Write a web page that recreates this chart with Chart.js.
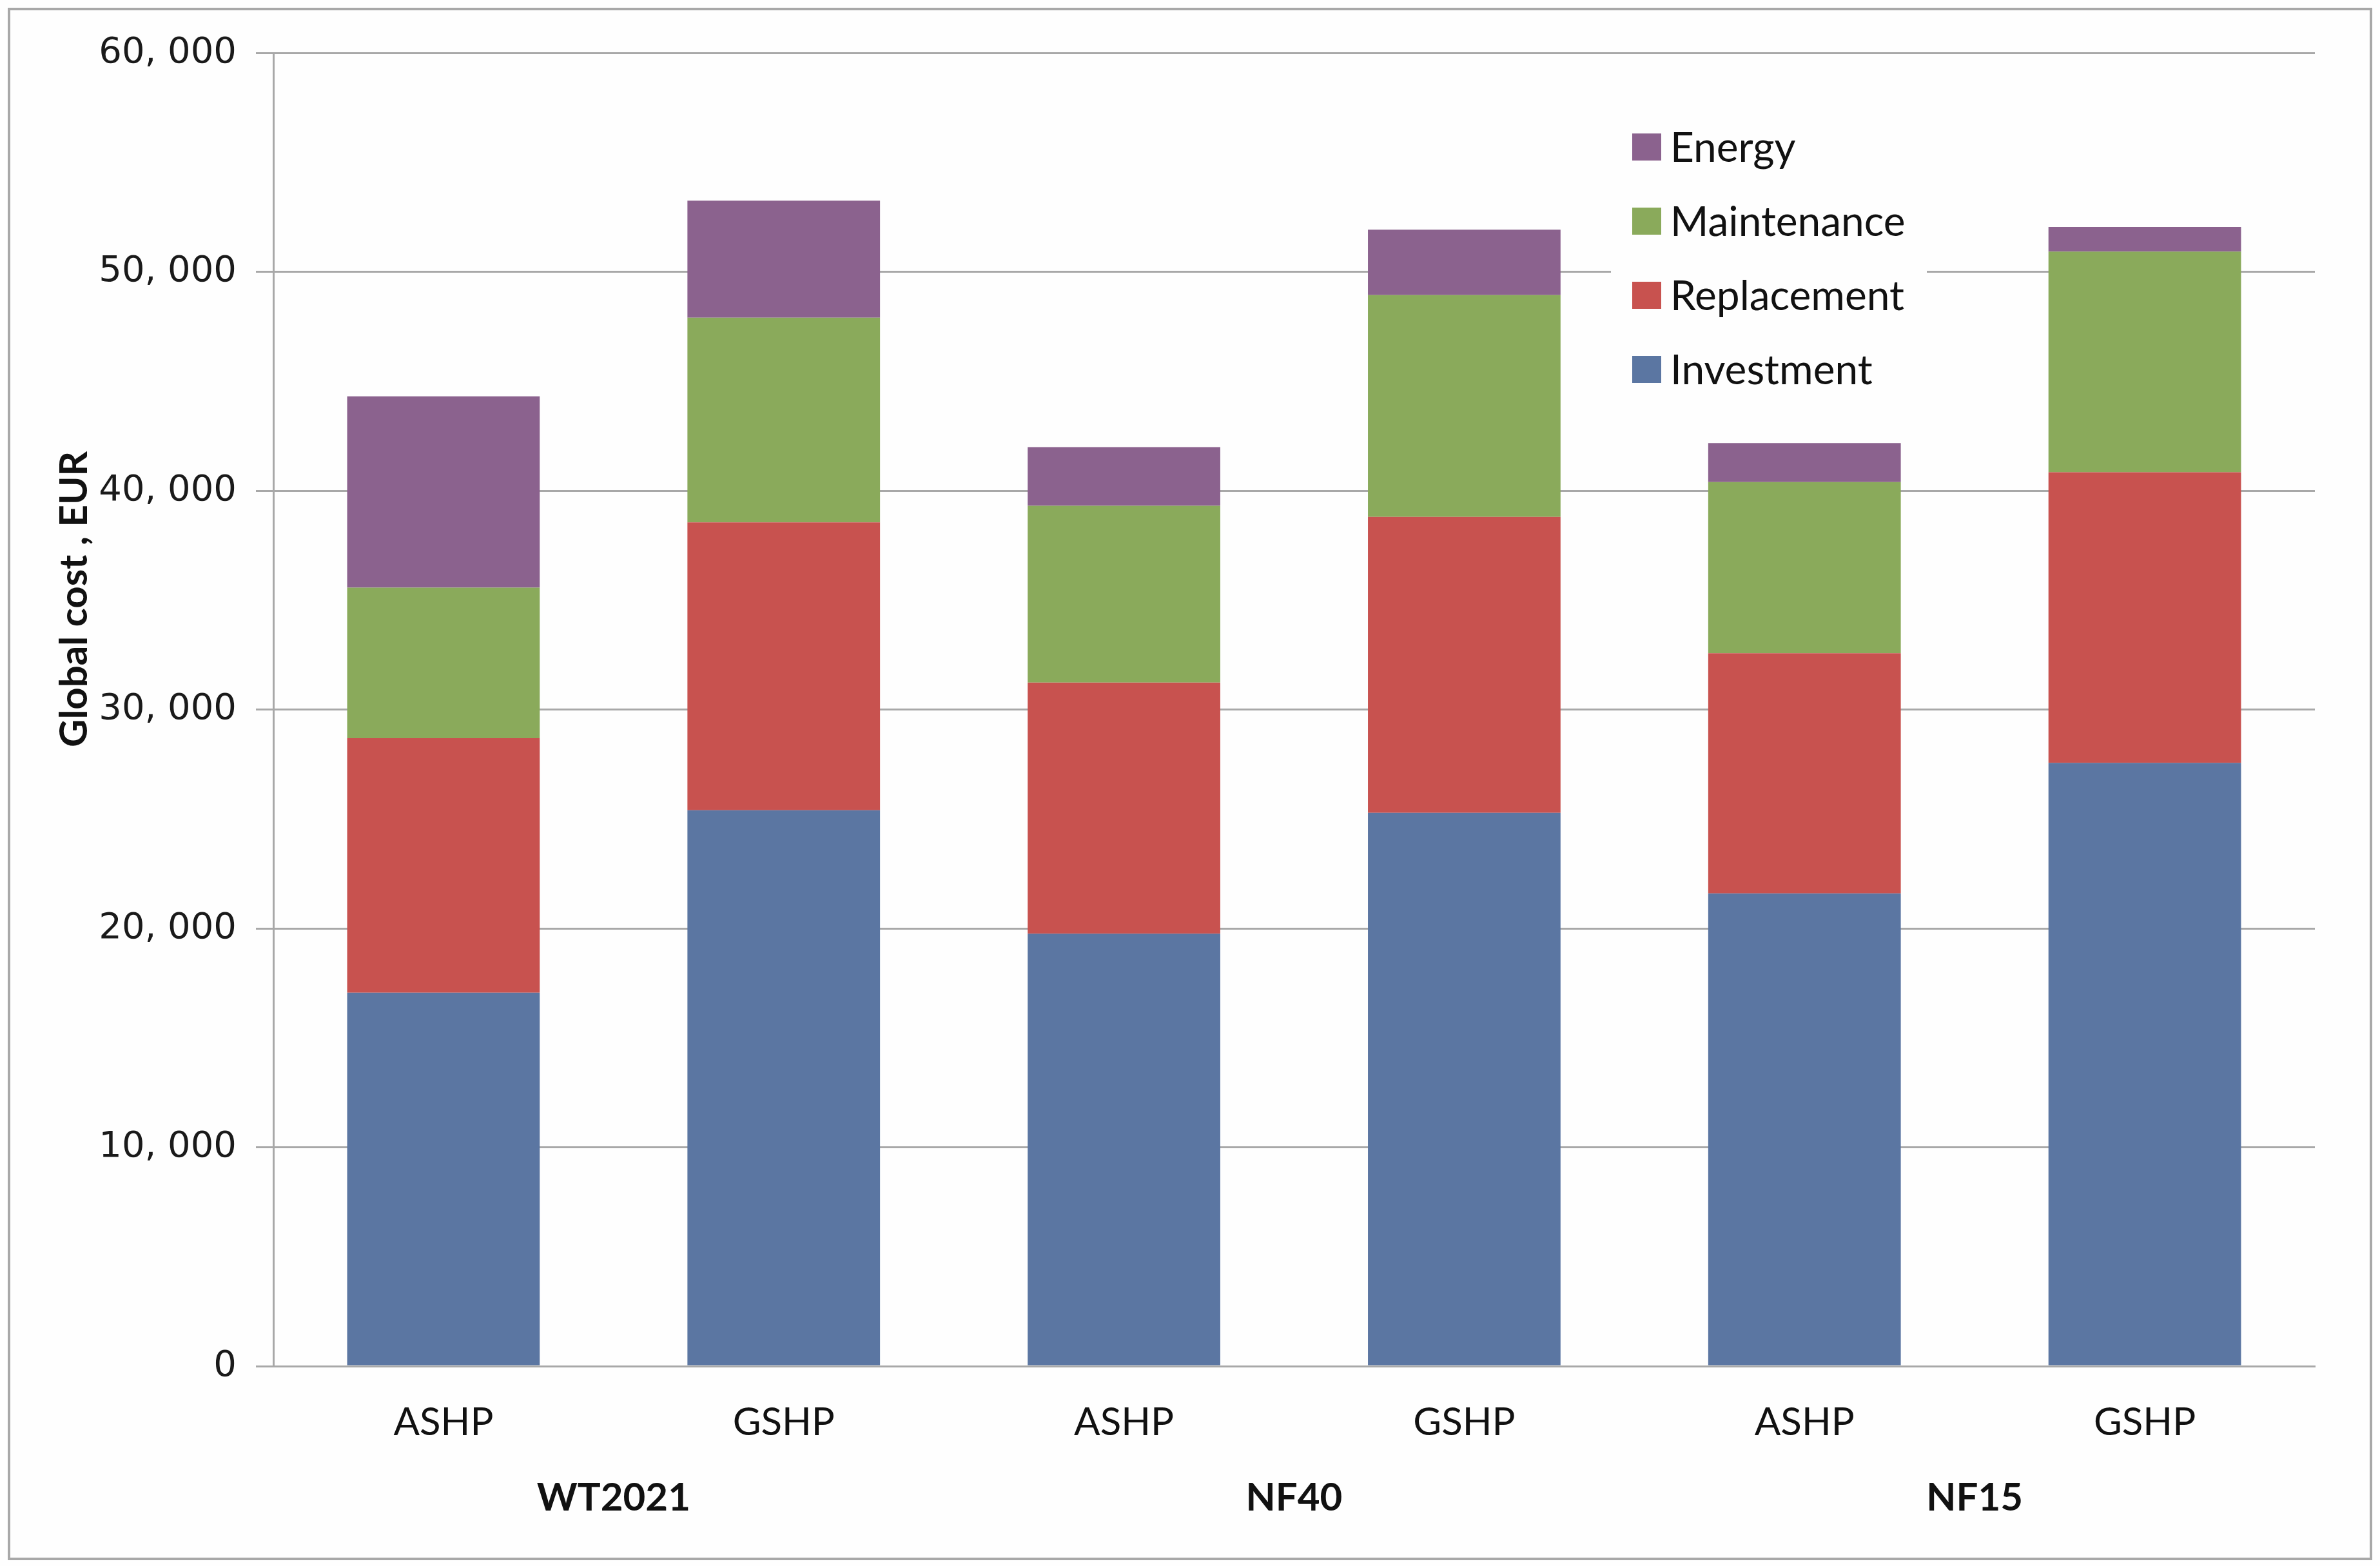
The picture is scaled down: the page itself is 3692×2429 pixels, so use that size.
<!DOCTYPE html>
<html>
<head>
<meta charset="utf-8">
<script src="https://cdn.jsdelivr.net/npm/chart.js@4.4.0/dist/chart.umd.min.js"></script>
<style>
    html, body { margin: 0; padding: 0; background: #fefefe; }
    #wrap { position: relative; width: 3692px; height: 2429px; }
    #frame { position: absolute; left: 12px; top: 12px; width: 3668px; height: 2408px;
             border: 4px solid #a8a8a8; box-sizing: border-box; pointer-events: none; }
    canvas { position: absolute; left: 0; top: 0; }
</style>
</head>
<body>
<div id="wrap">
    <canvas id="chart1" width="3692" height="2429"></canvas>
    <div id="frame"></div>
</div>
<script>
// categories and groups
var categories = ['ASHP', 'GSHP', 'ASHP', 'GSHP', 'ASHP', 'GSHP'];
var groups = ['WT2021', 'NF40', 'NF15'];

// cost parts, EUR
var investment = [17060, 25400, 19760, 25280, 21600, 27560];
var replacement = [11630, 13150, 11470, 13520, 10970, 13280];
var maintenance = [6880, 9350, 8080, 10130, 7820, 10080];
var energy = [8740, 5350, 2680, 2990, 1780, 1130];

var yTitle = 'Global cost , EUR';

var gridColor = '#a8a8a8';

// legend box drawn inside plot, like excel
const excelLegend = {
    id: 'excelLegend',
    afterDraw(chart) {
        const ctx = chart.ctx;
        ctx.save();

        // y axis title
        ctx.save();
        ctx.translate(135, 1159);
        ctx.rotate(-Math.PI / 2);
        ctx.font = 'bold 60px Lato';
        ctx.fillStyle = '#111';
        ctx.textAlign = 'left';
        ctx.textBaseline = 'alphabetic';
        ctx.fillText(yTitle, 0, 0);
        ctx.restore();

        // legend
        ctx.fillStyle = '#fefefe';
        ctx.fillRect(2499, 170, 490, 460);
        const sets = chart.data.datasets.slice().reverse();
        ctx.font = '64px Lato';
        ctx.textBaseline = 'middle';
        ctx.textAlign = 'left';
        sets.forEach((ds, i) => {
            const cy = 228 + i * 115;
            ctx.fillStyle = ds.backgroundColor;
            ctx.fillRect(2532, cy - 21, 45, 42);
            ctx.fillStyle = '#111';
            ctx.fillText(ds.label, 2591, cy + 2);
        });
        ctx.restore();
    }
};

window.onload = function () {
    const ctx1 = document.getElementById('chart1');
    new Chart(ctx1, {
        type: 'bar',
        data: {
            labels: categories,
            datasets: [
                { label: 'Investment', data: investment, backgroundColor: '#5b76a2' },
                { label: 'Replacement', data: replacement, backgroundColor: '#c8524f' },
                { label: 'Maintenance', data: maintenance, backgroundColor: '#8aaa5b' },
                { label: 'Energy', data: energy, backgroundColor: '#8b628e' }
            ]
        },
        options: {
            responsive: false,
            animation: false,
            devicePixelRatio: 1,
            datasets: {
                bar: { barPercentage: 0.566, categoryPercentage: 1, borderWidth: 0 }
            },
            layout: { padding: { top: 82, right: 101, left: 0, bottom: 0 } },
            plugins: {
                legend: { display: false },
                tooltip: { enabled: false }
            },
            scales: {
                x: {
                    stacked: true,
                    weight: 0,
                    grid: { display: false, drawTicks: false },
                    border: { display: true, color: gridColor, width: 3 },
                    ticks: { font: { family: 'Lato', size: 60 }, color: '#111', padding: 52 },
                    afterFit: function (s) { s.height = 129; }
                },
                x2: {
                    type: 'category',
                    labels: groups,
                    position: 'bottom',
                    offset: true,
                    weight: 1,
                    grid: { display: false, drawTicks: false },
                    border: { display: false },
                    ticks: { font: { family: 'Lato', size: 60, weight: 'bold' }, color: '#111', padding: 40 },
                    afterFit: function (s) { s.height = 181; }
                },
                y: {
                    stacked: true,
                    min: 0,
                    max: 60000,
                    ticks: {
                        stepSize: 10000,
                        font: { family: 'DejaVu Sans', size: 56 },
                        color: '#1a1a1a',
                        padding: 30,
                        callback: function (v) {
                            return v === 0 ? '0' : (v / 1000) + ', 000';
                        }
                    },
                    grid: { color: gridColor, lineWidth: 3, tickLength: 27 },
                    border: { color: gridColor, width: 3 },
                    afterFit: function (s) { s.width = 424; }
                }
            }
        },
        plugins: [excelLegend]
    });
}
</script>
</body>
</html>
